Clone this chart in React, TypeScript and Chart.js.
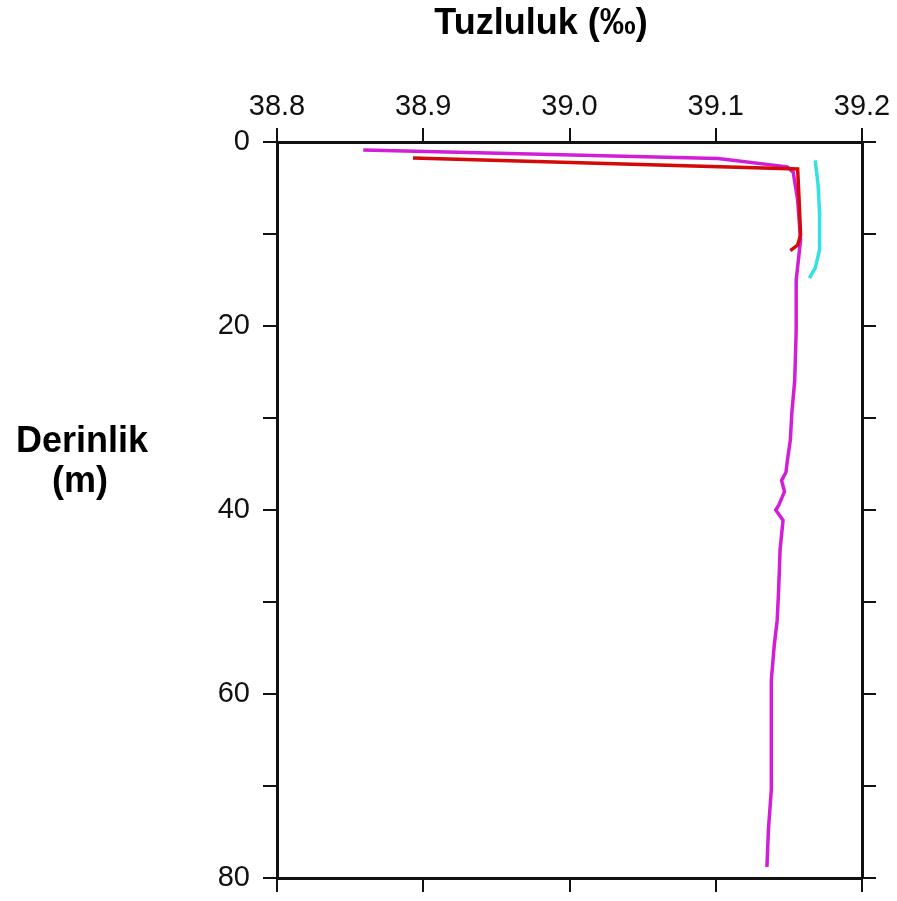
import React, { useEffect, useRef } from "react";
import { Chart, registerables } from "chart.js";

Chart.register(...registerables);

// Salinity profiles (‰) against depth (m) for three casts
const castA_salinity = [38.893, 39.156, 39.157, 39.158, 39.156, 39.151];
const castA_depth = [1.74, 2.93, 6.3, 10.1, 11.2, 11.8];

const castB_salinity = [
  38.859, 39.1015, 39.149, 39.153, 39.156, 39.158, 39.155, 39.155, 39.154,
  39.152, 39.151, 39.149, 39.148, 39.145, 39.147, 39.143, 39.141, 39.146,
  39.144, 39.143, 39.142, 39.140, 39.138, 39.138, 39.138, 39.138, 39.136,
  39.135,
];
const castB_depth = [
  0.87, 1.8, 2.7, 3.3, 6.3, 10.65, 15.0, 20.4, 25.9, 29.5, 32.4, 34.6, 35.9,
  36.8, 38.0, 39.5, 40.0, 41.1, 44.3, 48.7, 52.0, 54.7, 58.5, 60.7, 65.0,
  70.4, 74.8, 78.8,
];

const castC_salinity = [39.168, 39.170, 39.171, 39.171, 39.168, 39.164];
const castC_depth = [2.0, 4.7, 7.8, 11.7, 13.7, 14.8];

const salinityTicks = [38.8, 38.9, 39.0, 39.1, 39.2];
const depthLabelStep = 20;

const xTitle = "Tuzluluk (‰)";
const yTitleLines = ["Derinlik", "(m)"];

const toPoints = (xs: number[], ys: number[]) =>
  xs.map((x, i) => ({ x, y: ys[i] }));

const titlesPlugin = {
  id: "profileTitles",
  afterDraw(chart: any) {
    const ctx = chart.ctx;
    ctx.save();
    ctx.fillStyle = "#000";
    ctx.font = "bold 36px 'Liberation Sans', Arial, sans-serif";
    ctx.textAlign = "center";
    ctx.textBaseline = "alphabetic";
    ctx.fillText(xTitle, 541, 34);
    ctx.fillText(yTitleLines[0], 82, 452);
    ctx.fillText(yTitleLines[1], 80, 492);
    ctx.restore();
  },
};

// keep the axis boxes at fixed sizes, with no extra room for label overhang
const fixBox = (w: number | null, h: number | null) => (s: any) => {
  if (w !== null) s.width = w;
  if (h !== null) s.height = h;
  s.paddingTop = 0;
  s.paddingBottom = 0;
  s.paddingLeft = 0;
  s.paddingRight = 0;
};

export default function App() {
  const canvasRef = useRef<HTMLCanvasElement | null>(null);

  useEffect(() => {
    if (!canvasRef.current) return;
    const tickFont = { family: "'Liberation Sans', Arial, sans-serif", size: 29 };
    const grid = {
      drawOnChartArea: false,
      drawTicks: true,
      tickLength: 14,
      color: "#111",
      lineWidth: 2,
    };
    const border = { display: true, color: "#111", width: 3 };
    const line = {
      showLine: true,
      pointRadius: 0,
      borderWidth: 3.5,
      tension: 0,
    };

    const chart = new Chart(canvasRef.current, {
      type: "scatter",
      data: {
        datasets: [
          {
            label: "A",
            data: toPoints(castA_salinity, castA_depth),
            borderColor: "#d40a0a",
            backgroundColor: "#d40a0a",
            order: 1,
            ...line,
          },
          {
            label: "B",
            data: toPoints(castB_salinity, castB_depth),
            borderColor: "#d21ed6",
            backgroundColor: "#d21ed6",
            order: 2,
            ...line,
          },
          {
            label: "C",
            data: toPoints(castC_salinity, castC_depth),
            borderColor: "#35e0e0",
            backgroundColor: "#35e0e0",
            order: 0,
            ...line,
          },
        ],
      },
      options: {
        responsive: false,
        animation: false,
        devicePixelRatio: 1,
        layout: { padding: 0 },
        plugins: {
          legend: { display: false },
          tooltip: { enabled: false },
          title: { display: false },
        },
        scales: {
          x: {
            type: "linear",
            position: "top",
            min: salinityTicks[0],
            max: salinityTicks[salinityTicks.length - 1],
            afterBuildTicks: (s: any) => {
              s.ticks = salinityTicks.map((v) => ({ value: v }));
            },
            ticks: {
              font: tickFont,
              color: "#111",
              padding: 4,
              maxRotation: 0,
              autoSkip: false,
              callback: (v: any) => Number(v).toFixed(1),
            },
            grid,
            border,
            afterFit: fixBox(null, 142),
          },
          x2: {
            type: "linear",
            position: "bottom",
            min: salinityTicks[0],
            max: salinityTicks[salinityTicks.length - 1],
            afterBuildTicks: (s: any) => {
              s.ticks = salinityTicks.map((v) => ({ value: v }));
            },
            ticks: { display: true, autoSkip: false, callback: () => "" },
            grid,
            border,
            afterFit: fixBox(null, 23),
          },
          y: {
            type: "linear",
            position: "left",
            min: 0,
            max: 80,
            reverse: true,
            ticks: {
              stepSize: 10,
              font: tickFont,
              color: "#111",
              padding: 13,
              autoSkip: false,
              callback: (v: any) =>
                Number(v) % depthLabelStep === 0 ? String(v) : "",
            },
            grid,
            border,
            afterFit: fixBox(277, null),
          },
          y2: {
            type: "linear",
            position: "right",
            min: 0,
            max: 80,
            reverse: true,
            ticks: { stepSize: 10, autoSkip: false, callback: () => "" },
            grid,
            border,
            afterFit: fixBox(35, null),
          },
        },
      },
      plugins: [titlesPlugin],
    } as any);

    return () => chart.destroy();
  }, []);

  return (
    <div
      style={{
        position: "absolute",
        left: 0,
        top: 0,
        width: 897,
        height: 901,
        background: "#fff",
      }}
    >
      <canvas ref={canvasRef} width={897} height={901} />
    </div>
  );
}
